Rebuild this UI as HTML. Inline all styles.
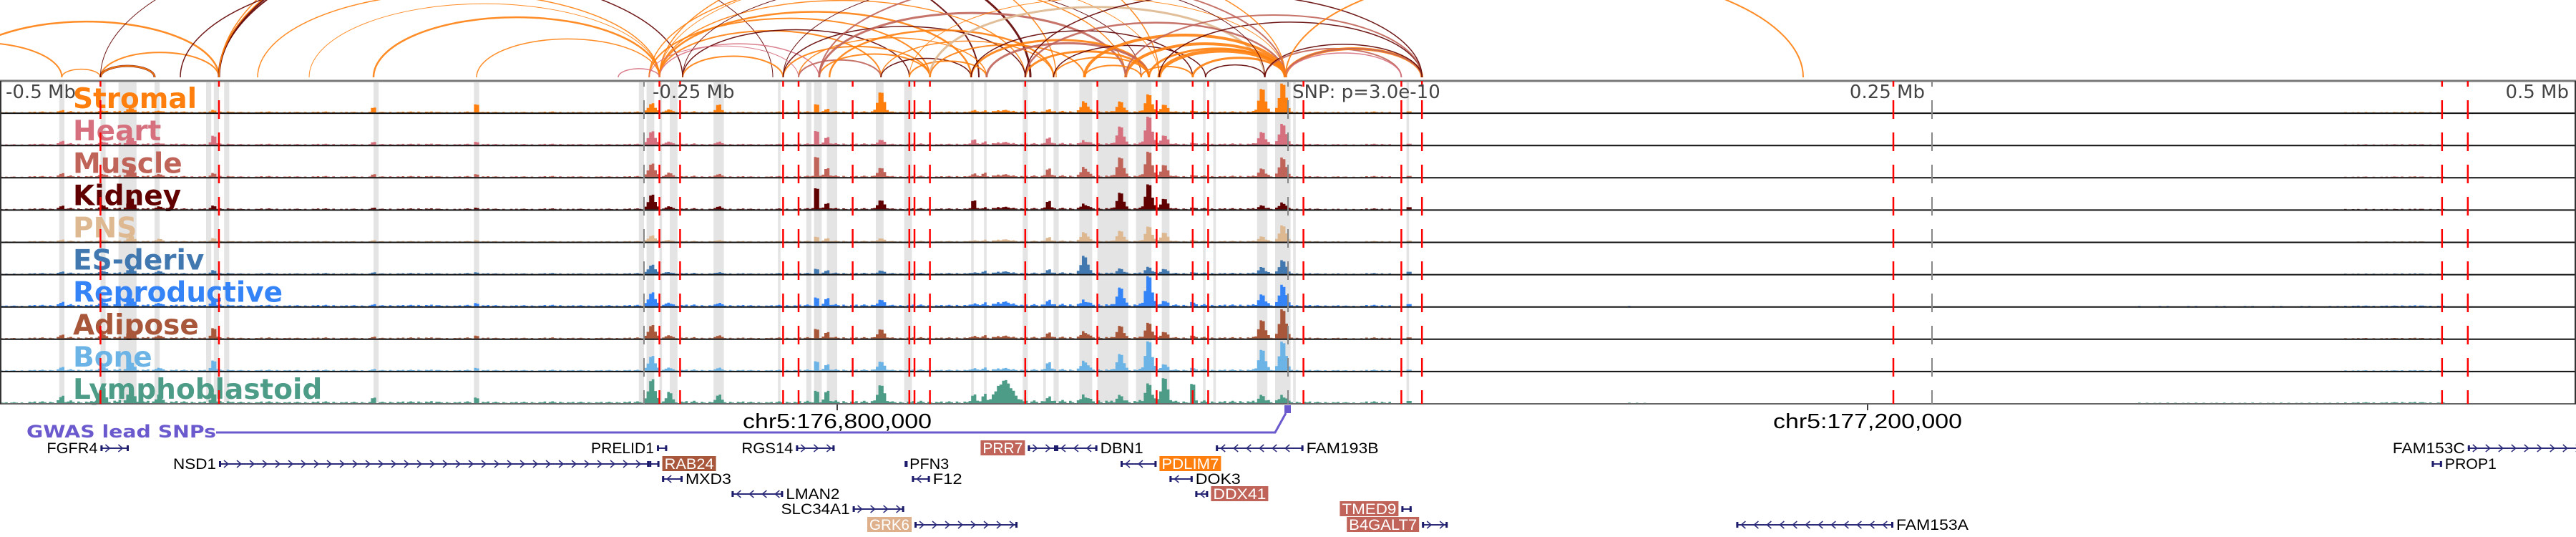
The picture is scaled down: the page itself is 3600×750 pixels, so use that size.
<!DOCTYPE html>
<html><head><meta charset="utf-8"><style>
html,body{margin:0;padding:0;background:#fff;}
svg{display:block;}
</style></head><body>
<svg id="chart" width="3600" height="750" viewBox="0 0 3600 750" xmlns="http://www.w3.org/2000/svg">
<g id="arcs"></g>
<g id="bands"></g>
<g id="labels"></g>
<g id="signals"></g>
<g id="frame"></g>
<g id="vlines"></g>
<g id="axis"></g>
<g id="genes"></g>
</svg>
<script>
// ---- data (positions in Mb offset relative to lead SNP) ----
const trackNames = ["Stromal","Heart","Muscle","Kidney","PNS","ES-deriv","Reproductive","Adipose","Bone","Lymphoblastoid"];
const trackColors = ["#ff7f0e","#d6707f","#c0645a","#600000","#deb890","#4178b0","#3584f7","#a9573a","#6cb4e6","#4c9c88"];
const baseScale = [0.5,0.6,0.6,0.5,0.4,0.5,0.8,0.6,0.6,1.0];
const baseLevels = [.02,.04,.06,.05,.08,.06,.05,.04,.06,.03,
 .04,.03,.04,.03,.03,.04,.05,.03,.04,.03,
 .03,.04,.03,.03,.04,.06,.05,.04,.04,.03,
 .04,.05,.06,.05,.04,.05,.04,.05,.06,.05,
 .06,.07,.08,.06,.07,.05,.06,.05,.06,.07,
 .04,.03,.02,.04,0,0,0,0,0,0,
 0,0,0,.01,0,0,0,0,0,0,
 0,0,0,0,0,0,0,0,0,0,
 0,0,0,.01,.01,.01,.01,.01,.01,.01,
 .01,.02,.02,.03,.02,0,0,0,0,0];
const peakPos = [-0.476,-0.46,-0.449,-0.438,-0.417,-0.355,-0.315,-0.247,-0.24,-0.221,-0.183,-0.179,-0.158,-0.122,-0.118,-0.093,-0.079,-0.065,-0.054,-0.048,-0.037,-0.010,-0.002,0.047,-0.11];
const peakWidth = [.0008,.0008,.001,.0008,.0008,.0006,.0006,.0012,.0008,.0008,.0006,.0008,.0012,.0005,.0006,.0008,.0012,.0012,.0012,.0012,.0005,.0012,.0012,.0006,.003];
const peakHeights = [
 [.05,.05,.15,.05,.05,.2,.35,.3,.1,.3,.35,.1,.7,.1,.05,.1,.35,.35,.6,.25,.05,.8,1.0,.05,.05],
 [.1,.1,.25,.05,.3,.1,.1,.45,.1,.1,.6,.25,.15,.25,.1,.25,.1,.6,.95,.3,.05,.4,.7,.05,.05],
 [.1,.1,.35,.1,.1,.1,.1,.45,.15,.1,.9,.3,.3,.15,.15,.3,.3,.65,.85,.4,.05,.25,.65,.05,.05],
 [.1,.15,.4,.1,.1,.05,.05,.5,.1,.1,.95,.2,.3,.45,.05,.3,.15,.55,.85,.35,.05,.1,.2,.1,.05],
 [.05,.05,.2,.1,.1,.05,.05,.2,.05,.05,.2,.1,.1,.05,.05,.15,.3,.35,.5,.3,.05,.15,.55,.05,.05],
 [.05,.1,.2,.1,.1,.05,.05,.3,.05,.05,.2,.1,.1,.05,.1,.15,.6,.15,.2,.15,.05,.2,.45,.1,.05],
 [.1,.15,.3,.1,.25,.05,.1,.45,.1,.1,.35,.25,.2,.1,.1,.2,.15,.6,1.0,.15,.15,.35,.7,.1,.1],
 [.1,.15,.3,.1,.35,.05,.1,.45,.1,.1,.4,.2,.3,.1,.1,.2,.2,.4,.5,.2,.1,.6,1.0,.05,.05],
 [.1,.15,.3,.1,.35,.05,.1,.5,.1,.1,.4,.2,.3,.1,.1,.3,.3,.55,1.0,.2,.1,.7,1.0,.05,.05],
 [.2,.6,.5,.3,.3,.2,.2,.8,.4,.3,.5,.4,.6,.4,.3,.2,.2,.2,.6,.85,.95,.2,.2,.1,.7]
];
const bandStarts = [-0.477,-0.461,-0.454,-0.440,-0.420,-0.417,-0.413,-0.355,-0.316,-0.252,-0.249,-0.244,-0.240,-0.223,-0.198,-0.187,-0.184,-0.179,-0.160,-0.149,-0.123,-0.118,-0.103,-0.095,-0.091,-0.081,-0.074,-0.059,-0.049,-0.033,-0.029,-0.012,-0.005,0.002,0.046];
const bandEnds   = [-0.475,-0.459,-0.447,-0.438,-0.418,-0.415,-0.411,-0.353,-0.314,-0.250,-0.246,-0.243,-0.237,-0.219,-0.197,-0.185,-0.181,-0.175,-0.157,-0.146,-0.122,-0.117,-0.101,-0.094,-0.089,-0.076,-0.062,-0.053,-0.046,-0.032,-0.028,-0.008,0.001,0.003,0.047];
const redLines = [-0.461,-0.415,-0.244,-0.236,-0.196,-0.190,-0.169,-0.147,-0.145,-0.139,-0.102,-0.074,-0.051,-0.037,-0.031,0.006,0.044,0.052,0.235,0.448,0.458];
const tickOffsets = [-0.5,-0.25,0,0.25,0.5];
const tickLabels = ["-0.5 Mb","-0.25 Mb","SNP: p=3.0e-10","0.25 Mb","0.5 Mb"];
const arcFrom = [-0.518,-0.54,-0.476,-0.461,-0.461,-0.461,-0.461,-0.415,-0.415,-0.415,-0.415,-0.355,-0.315,-0.43,-0.40,-0.38,
 -0.248,-0.244,-0.244,-0.244,-0.248,-0.244,-0.235,-0.235,-0.244,-0.235,-0.196,-0.196,-0.19,-0.19,-0.182,-0.182,-0.178,-0.158,-0.158,-0.147,-0.139,-0.139,-0.123,-0.123,-0.117,-0.102,-0.102,-0.091,-0.091,-0.079,-0.079,-0.063,-0.057,-0.054,-0.05,-0.037,-0.032,-0.009,-0.001,-0.001,-0.001,-0.009,-0.05,-0.063,-0.102,-0.001,-0.147,-0.182,-0.196,-0.244,-0.26,-0.248];
const arcTo = [-0.415,-0.476,-0.461,-0.415,-0.44,-0.44,-0.2,-0.1,-0.12,-0.05,-0.09,-0.244,-0.244,-0.235,-0.244,-0.244,
 -0.139,-0.158,-0.123,-0.102,-0.063,-0.182,-0.147,-0.196,-0.05,-0.057,-0.139,-0.102,-0.117,-0.158,-0.139,-0.063,-0.091,-0.091,-0.123,-0.117,-0.009,-0.079,-0.054,-0.037,-0.054,-0.054,-0.001,-0.054,-0.032,-0.057,-0.001,-0.001,-0.037,-0.001,-0.001,-0.001,-0.009,0.044,0.052,0.052,0.044,0.052,0.052,0.052,0.052,0.2,-0.001,-0.001,-0.009,-0.001,-0.244,-0.19];
const arcType = ["O","O","O","O","K","O","K","K","K","O","O","O","O","K","O","O",
 "O","O","O","O","O","H","K","O","O","K","O","K","O","M","O","M","O","O","K","O","P","O","O","K","M","O","M","O","K","O","O","O","O","O","O","O","K","M","O","M","H","K","K","M","K","O","O","M","K","O","H","H"];
const arcWidth = [2.5,2,1.5,2,3,2,1,3,2,1.5,1.5,2.5,1.5,1.5,1.5,1,
 2,2,2.5,1.5,1.5,1.5,1.5,2,1,1,2,1.5,1.5,2,2,3,2.5,1.5,1.5,2,3,2,3,1.5,3,3,2.5,2,1.5,2,4,4,2,3,5,3,1.5,2,4,2,1.5,1.5,1.5,2,1.5,2,1,2,1,1.5,1.5,1];
const arcColorMap = {O:"#ff7f0e",K:"#600000",M:"#c0645a",H:"#d6707f",P:"#deb890"};
const geneNames = ["FGFR4","NSD1","PRELID1","RAB24","MXD3","LMAN2","SLC34A1","RGS14","GRK6","PFN3","F12","PRR7","DBN1","FAM193B","PDLIM7","DOK3","DDX41","TMED9","B4GALT7","FAM153C","PROP1","FAM153A"];
const geneStart = [-0.461,-0.415,-0.245,-0.248,-0.243,-0.216,-0.169,-0.191,-0.145,-0.1485,-0.146,-0.101,-0.090,-0.028,-0.065,-0.046,-0.036,0.044,0.052,0.458,0.444,0.174];
const geneEnd   = [-0.450,-0.248,-0.241,-0.244,-0.235,-0.196,-0.149,-0.176,-0.105,-0.148,-0.139,-0.090,-0.074,0.006,-0.051,-0.037,-0.031,0.048,0.062,0.506,0.448,0.235];
const geneRow   = [0,1,0,1,2,3,4,0,5,1,2,0,0,0,1,2,3,4,5,0,1,5];
const geneStrand= [1,1,1,-1,-1,-1,1,1,1,1,-1,1,-1,-1,-1,-1,-1,1,1,1,-1,-1];
const geneLabelLeft = [1,1,1,0,0,0,1,1,1,0,0,1,0,0,0,0,0,1,1,1,0,0];
const geneHighlight = ["","","","#a9573a","","","","","#deb08c","","","#c0645a","","","#ff7f0e","","#c0645a","#c0645a","#c0645a","","",""];
const geneLabelWidth = [71,60,88,69,64,75,96,72,56,55,41,56,60,101,80,63,74,76,95,101,72,101];
const coordTicks = [-0.175,0.225];
const coordLabels = ["chr5:176,800,000","chr5:177,200,000"];

// ---- scales ----
const X0 = 1800, PXMB = 3600;
function xs(off){ return X0 + off*PXMB; }
const TOP = 113, TH = 45.1, MAXH = 42;
function trackTop(i){ return TOP + i*TH; }
const NS = "http://www.w3.org/2000/svg";
function mk(tag, attrs, parent){
  const e = document.createElementNS(NS, tag);
  for (const k in attrs) e.setAttribute(k, attrs[k]);
  parent.appendChild(e); return e;
}

// arcs
const gArcs = document.getElementById('arcs');
for (let i=0;i<arcFrom.length;i++){
  const x1 = xs(arcFrom[i]), x2 = xs(arcTo[i]);
  const a = Math.min(x1,x2), b = Math.max(x1,x2);
  const rx = (b-a)/2, ry = rx*0.42;
  const p = mk('path',{d:`M${a} 108 A${rx} ${ry} 0 0 1 ${b} 108`,fill:"none",stroke:arcColorMap[arcType[i]],"stroke-width":arcWidth[i],opacity:0.9},gArcs);
  
  
}

// bands
const gBands = document.getElementById('bands');
for (let i=0;i<bandStarts.length;i++){
  const r = mk('rect',{x:xs(bandStarts[i]),y:TOP+2,width:Math.max(2,xs(bandEnds[i])-xs(bandStarts[i])),height:TH*10-4,fill:"#e4e4e4"},gBands);
  
  
}

// labels
const gLab = document.getElementById('labels');
for (let i=0;i<trackNames.length;i++){
  const t = mk('text',{x:102,y:trackTop(i)+TH-7,fill:trackColors[i],"font-family":"DejaVu Sans, Liberation Sans, sans-serif","font-weight":"bold","font-size":39},gLab);
  t.textContent = trackNames[i];
  
  
}

// signals
const texture = [1,0.6,1.3,0,0.9,1.5,0.7,0,1.1,0.4,0];
const gSig = document.getElementById('signals');
for (let t=0;t<trackNames.length;t++){
  let d = "";
  const bottom = trackTop(t)+TH-1;
  for (let b=0;b<1000;b++){
    const off = -0.5 + b*0.001 + 0.0005;
    let v = baseLevels[Math.floor(b/10)]*baseScale[t]*texture[b%texture.length];
    for (let k=0;k<peakPos.length;k++){
      const z = (off-peakPos[k])/peakWidth[k];
      if (Math.abs(z)<4) v += peakHeights[t][k]*Math.exp(-z*z/2);
    }
    v = Math.min(v,1);
    const h = v*MAXH;
    if (h>0.4) d += `M${xs(off-0.0005).toFixed(1)} ${bottom}h3.6v${(-h).toFixed(1)}h-3.6z`;
  }
  const p = mk('path',{d:d,fill:trackColors[t]},gSig);
  
  
}

// frame
const gF = document.getElementById('frame');
for (let i=1;i<trackNames.length;i++){
  const l = mk('line',{x1:0,x2:3600,y1:trackTop(i),y2:trackTop(i),stroke:"#111","stroke-width":2},gF);
  
  
}
mk('line',{x1:0,x2:3600,y1:TOP,y2:TOP,stroke:"#777","stroke-width":3},gF);
mk('line',{x1:0,x2:3600,y1:TOP+TH*10,y2:TOP+TH*10,stroke:"#666","stroke-width":2},gF);
mk('line',{x1:1,x2:1,y1:TOP,y2:TOP+TH*10,stroke:"#333","stroke-width":2},gF);
mk('line',{x1:3599,x2:3599,y1:TOP,y2:TOP+TH*10,stroke:"#333","stroke-width":2},gF);

// vertical lines
const gV = document.getElementById('vlines');
for (let i=0;i<tickOffsets.length;i++){
  const x = xs(tickOffsets[i]);
  if (x<=2 || x>=3598) continue;
  const l = mk('line',{x1:x,x2:x,y1:TOP,y2:TOP+TH*10,stroke:"#888","stroke-width":2,"stroke-dasharray":"26 19","stroke-dashoffset":18},gV);
  
  
}
for (let i=0;i<redLines.length;i++){
  const x = xs(redLines[i]);
  const l = mk('line',{x1:x,x2:x,y1:TOP,y2:TOP+TH*10,stroke:"#ff0000","stroke-width":2.5,"stroke-dasharray":"26 19","stroke-dashoffset":18},gV);
  
  
}

// axis labels
const gA = document.getElementById('axis');
const tickAnchor = ["start","start","start","end","end"];
const tickShift = [8,12,6,-10,-10];
for (let i=0;i<tickLabels.length;i++){
  const t = mk('text',{x:xs(tickOffsets[i])+tickShift[i],y:137,"text-anchor":tickAnchor[i],fill:"#444","font-family":"DejaVu Sans, Liberation Sans, sans-serif","font-size":26},gA);
  t.textContent = tickLabels[i];
  
  
}
for (let i=0;i<coordTicks.length;i++){
  const x = xs(coordTicks[i]);
  mk('line',{x1:x,x2:x,y1:565,y2:573,stroke:"#000","stroke-width":1.5},gA);
  const t = mk('text',{x:x,y:598,"text-anchor":"middle",fill:"#000","font-family":"Liberation Sans, sans-serif","font-size":29,textLength:264,lengthAdjust:"spacingAndGlyphs"},gA);
  t.textContent = coordLabels[i];
  
  
}

// GWAS
const gG = document.getElementById('genes');
const gw = mk('text',{x:37,y:611,fill:"#6a5acd","font-family":"DejaVu Sans, Liberation Sans, sans-serif","font-weight":"bold","font-size":24,textLength:265,lengthAdjust:"spacingAndGlyphs"},gG);
gw.textContent = "GWAS lead SNPs";


const snpX = xs(0);
const gl = mk('path',{d:`M302 604 H${snpX-18} L${snpX-3} 577`,fill:"none",stroke:"#6a5acd","stroke-width":3},gG);


const gs = mk('rect',{x:snpX-5,y:566,width:9,height:11,fill:"#6a5acd"},gG);



// genes
const rowY = [626,648,669,690,711,733];
for (let i=0;i<geneNames.length;i++){
  const g = mk('g',{},gG);
  
  
  const a = xs(geneStart[i]), b = xs(geneEnd[i]), y = rowY[geneRow[i]];
  mk('line',{x1:a,x2:b,y1:y,y2:y,stroke:"#2b2b7a","stroke-width":2},g);
  mk('rect',{x:a,y:y-4,width:3,height:8,fill:"#1c1c6b"},g);
  mk('rect',{x:b-3,y:y-4,width:3,height:8,fill:"#1c1c6b"},g);
  let cd = "";
  for (let cx=a+10; cx<b-6; cx+=18){
    const s = geneStrand[i];
    cd += `M${cx-3*s} ${y-5} L${cx+3*s} ${y} L${cx-3*s} ${y+5}`;
  }
  if (cd) mk('path',{d:cd,fill:"none",stroke:"#2b2b7a","stroke-width":1.5},g);
  const w = geneLabelWidth[i];
  const left = geneLabelLeft[i]===1;
  const hl = geneHighlight[i];
  const pad = hl ? 3 : 0;
  const tx = left ? a-4-pad-w : b+4+pad;
  if (hl) mk('rect',{x:tx-3,y:y-11,width:w+6,height:21,fill:hl},g);
  const t = mk('text',{x:tx,y:y+7,fill:hl?"#fff":"#000","font-family":"Liberation Sans, sans-serif","font-size":21,textLength:w,lengthAdjust:"spacingAndGlyphs"},g);
  t.textContent = geneNames[i];
}
</script>
</body></html>
